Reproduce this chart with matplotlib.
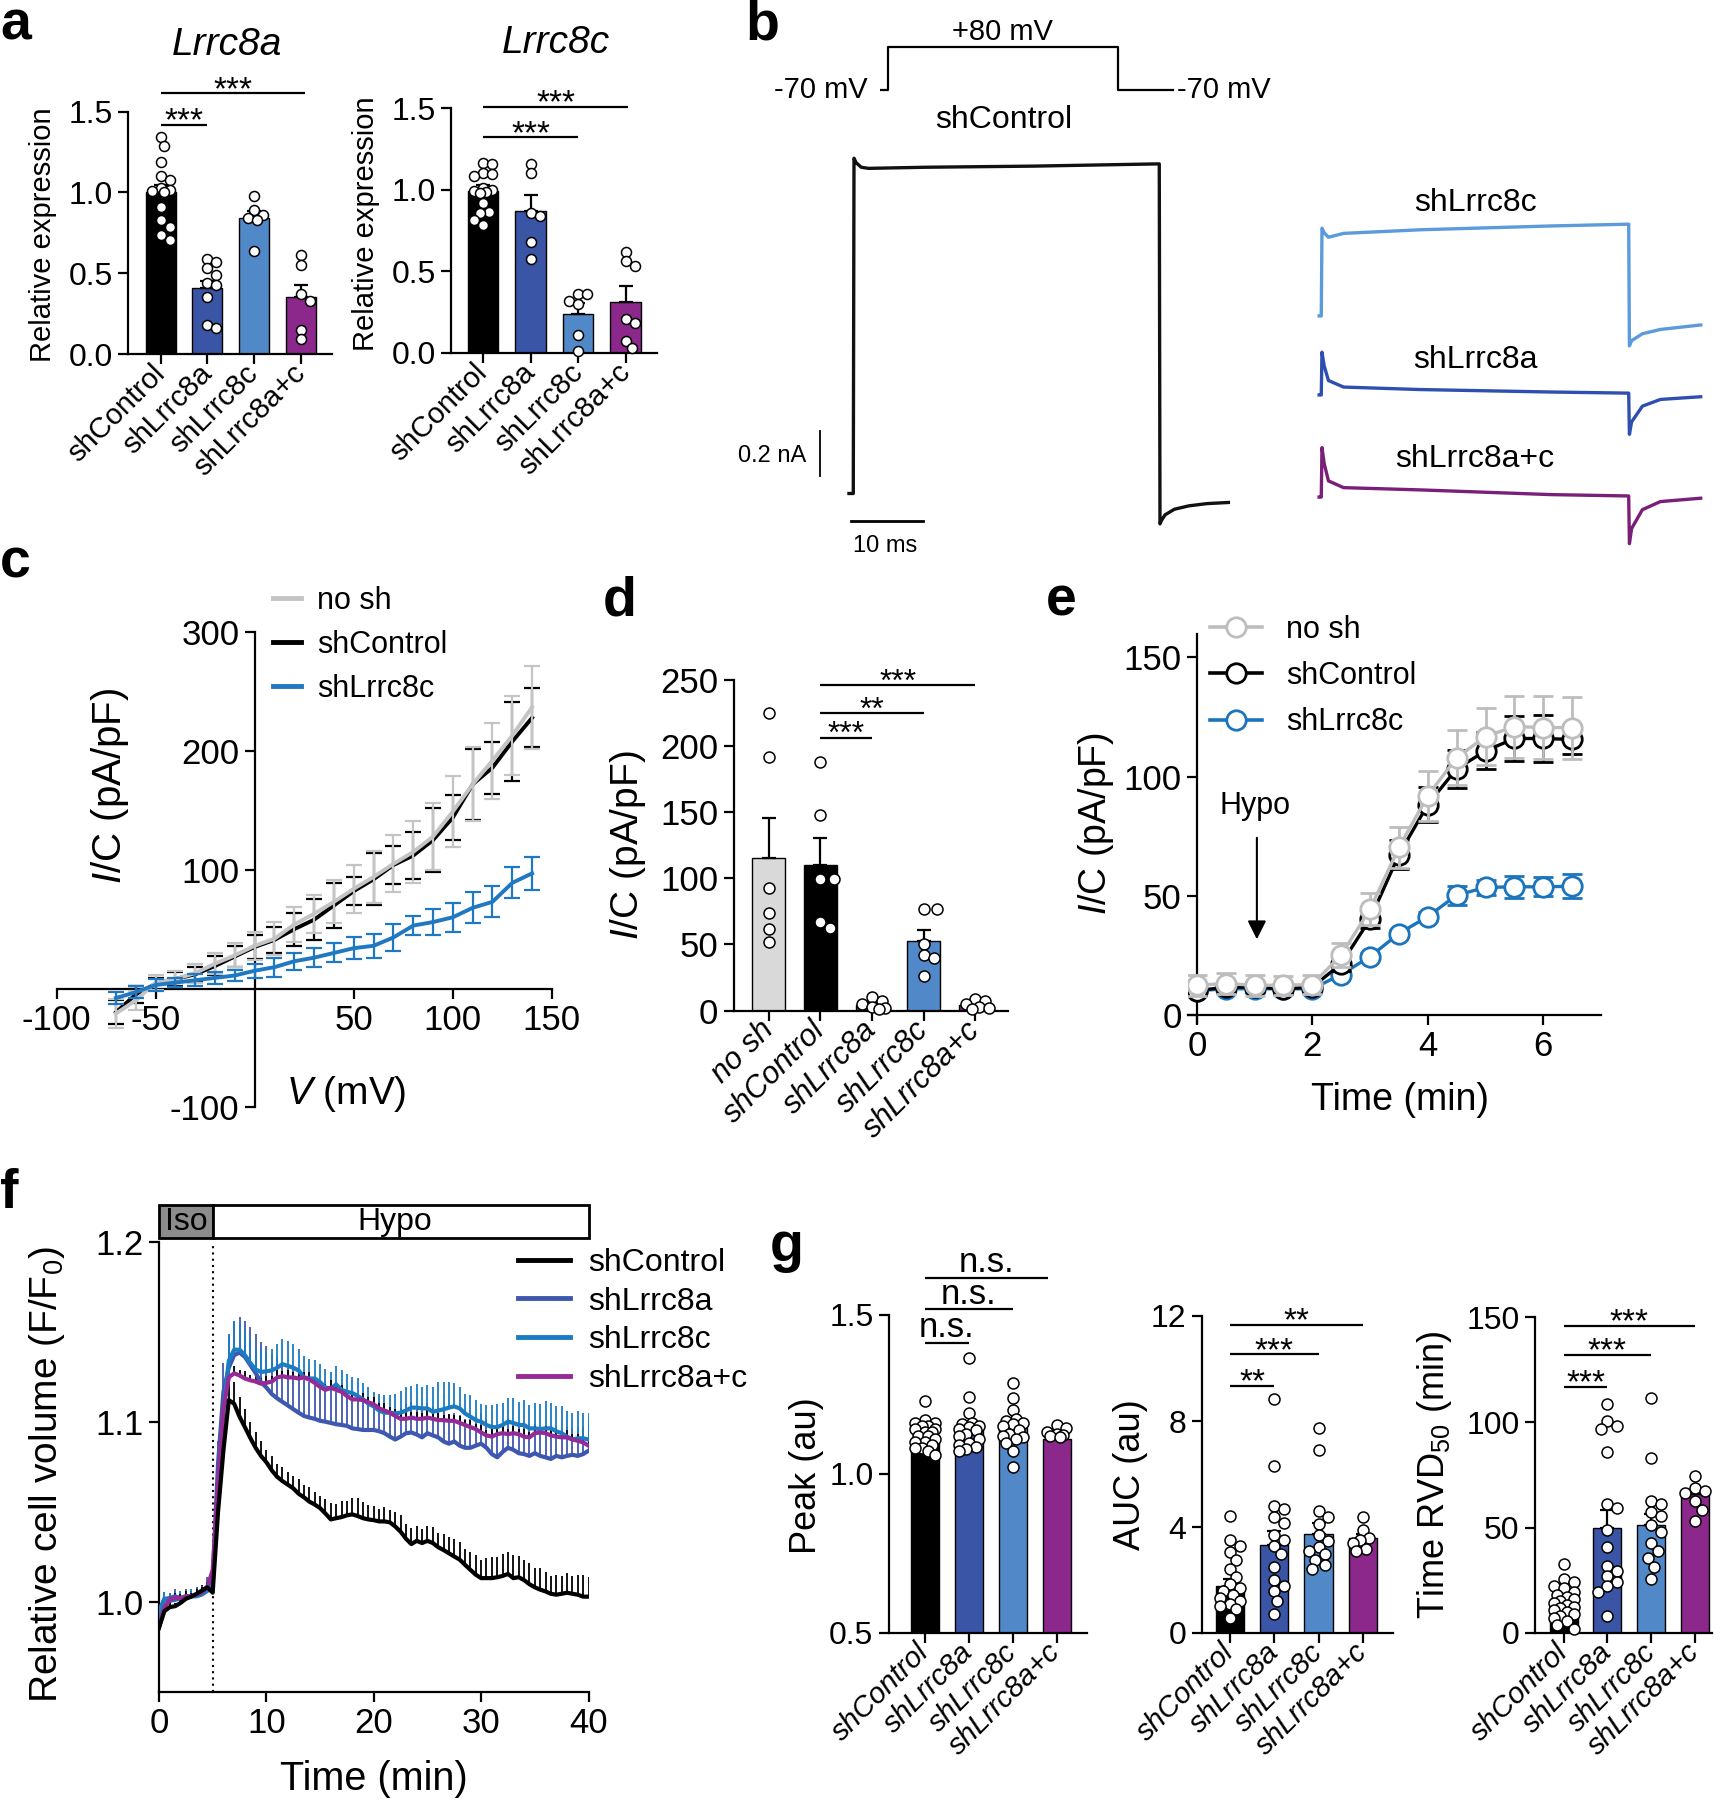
import numpy as np
import matplotlib
matplotlib.use("Agg")
import matplotlib.pyplot as plt
from matplotlib.patches import Rectangle
from matplotlib.lines import Line2D
from matplotlib.ticker import FormatStrFormatter

SANS = "Liberation Sans"
plt.rcParams["font.family"] = [SANS, "DejaVu Sans"]
plt.rcParams["mathtext.fontset"] = "custom"
plt.rcParams["mathtext.rm"] = SANS
plt.rcParams["mathtext.it"] = SANS + ":italic"
plt.rcParams["mathtext.bf"] = SANS + ":bold"
plt.rcParams["axes.unicode_minus"] = False

# ---------------- data ----------------
groups4 = ["shControl", "shLrrc8a", "shLrrc8c", "shLrrc8a+c"]
groups5 = ["no sh", "shControl", "shLrrc8a", "shLrrc8c", "shLrrc8a+c"]

# a: relative expression
a8a_mean = [1.00, 0.41, 0.84, 0.35]
a8a_sem = [0.046, 0.045, 0.045, 0.075]
a8a_pts = [[1.345, 1.29, 1.186, 1.104, 1.077, 1.025, 1.015, 1.011, 1.005, 0.912, 0.829, 0.788, 0.737, 0.706],
           [0.59, 0.57, 0.53, 0.49, 0.44, 0.43, 0.35, 0.18, 0.16],
           [0.98, 0.89, 0.86, 0.84, 0.83, 0.64],
           [0.61, 0.55, 0.37, 0.33, 0.15, 0.09]]
a8c_mean = [0.99, 0.87, 0.24, 0.31]
a8c_sem = [0.04, 0.095, 0.065, 0.10]
a8c_pts = [[1.166, 1.158, 1.101, 1.097, 1.086, 1.009, 0.999, 0.994, 0.988, 0.982, 0.917, 0.865, 0.856, 0.814, 0.784],
           [1.158, 1.101, 0.856, 0.839, 0.681, 0.573],
           [0.36, 0.36, 0.32, 0.30, 0.11, 0.01],
           [0.62, 0.56, 0.53, 0.205, 0.184, 0.074, 0.027]]

# b: current traces (ms, nA)
tr_ctrl_t = [-0.7, -0.1, 0.0, 0.3, 1.0, 2.0, 10, 25, 42.4, 42.5, 42.7, 43.2, 44.5, 46.5, 49, 52]
tr_ctrl_i = [0.0, 0.0, 1.49, 1.47, 1.45, 1.445, 1.45, 1.455, 1.465, -0.135, -0.12, -0.095, -0.07, -0.055, -0.045, -0.04]
tr_t = [-0.4, -0.1, 0.0, 0.3, 0.9, 3, 13.6, 31.8, 42.6, 42.7, 43.0, 44.5, 47, 52.6]
tr_8c_i = [0.0, 0.0, 0.39, 0.37, 0.35, 0.367, 0.383, 0.40, 0.408, -0.133, -0.11, -0.079, -0.06, -0.04]
tr_8a_i = [0.0, 0.0, 0.19, 0.13, 0.064, 0.035, 0.024, 0.013, 0.008, -0.175, -0.12, -0.05, -0.02, -0.008]
tr_ac_i = [0.0, 0.0, 0.22, 0.15, 0.072, 0.042, 0.032, 0.011, 0.005, -0.207, -0.14, -0.056, -0.02, -0.005]
proto_t = [0, 1.1, 1.1, 33.1, 33.1, 40.7]
proto_v = [-70, -70, 80, 80, -70, -70]

# c: I-V
iv_v = [-70, -60, -50, -40, -30, -20, -10, 0, 10, 20, 30, 40, 50, 60, 70, 80, 90, 100, 110, 120, 130, 140]
iv_nosh = [-21, -10, 5, 8, 13, 21, 28, 36, 42, 54, 63, 73, 84, 94, 105, 115, 128, 149, 172, 192, 213, 237]
iv_nosh_sem = [12, 8, 6, 7, 8, 9, 10, 12, 14, 15, 16, 18, 20, 22, 24, 26, 28, 30, 31, 32, 33, 35]
iv_ctrl = [-20, -5, 4, 8, 12, 19, 27, 35, 41, 50, 58, 70, 82, 92, 104, 112, 125, 144, 172, 186, 208, 228]
iv_ctrl_sem = [10, 7, 5, 6, 6, 8, 9, 10, 11, 14, 17, 19, 12, 22, 16, 20, 27, 19, 30, 22, 33, 25]
iv_8c = [-8, -3, 3, 5, 7, 9, 11, 15, 18, 23, 26, 30, 34, 36, 43, 53, 56, 60, 68, 73, 89, 97]
iv_8c_sem = [5, 5, 5, 4, 5, 5, 5, 6, 8, 7, 8, 8, 9, 10, 11, 8, 11, 12, 13, 13, 13, 14]

# d: current density at +80 mV
d_mean = [115.5, 110, 4.5, 52.4, 4.5]
d_sem = [30.5, 20.4, 1.5, 8.2, 1.5]
d_pts = [[225.5, 192, 93, 74, 62, 52],
         [188, 148, 99.7, 99.7, 67, 62.5],
         [10, 7, 5, 3, 2, 1],
         [77, 77, 50, 42, 40, 26],
         [9, 7, 5, 3, 2, 1]]

# e: time course
t_e = [0, 0.5, 1, 1.5, 2, 2.5, 3, 3.5, 4, 4.5, 5, 5.5, 6, 6.5]
e_nosh = [12.5, 13.2, 12.5, 12.5, 12.8, 25.2, 44.4, 70.3, 92, 108, 116.8, 121, 120.6, 120.6]
e_nosh_sem = [4.5, 4.5, 4.5, 4, 4, 5, 6.6, 8.7, 10.5, 11.5, 12, 13, 13.2, 13]
e_ctrl = [10.2, 11.7, 11.7, 11, 11.7, 21.5, 40.2, 67.3, 88.3, 103.3, 110.8, 116, 116, 115.6]
e_ctrl_sem = [2, 2, 2, 2, 2, 3, 3.5, 6, 7.3, 8, 7.8, 9.4, 10, 6]
e_8c = [10.2, 11, 11, 11, 11, 17, 24.5, 34.2, 41.3, 50.3, 53.5, 53.8, 53.8, 54]
e_8c_sem = [1.5, 1.5, 1.5, 1.5, 1.5, 1.5, 1.5, 1.5, 2, 4, 3, 4.5, 4, 5]

# f: relative cell volume, sampled every 0.5 min from 0 to 40
t_f = np.arange(81) * 0.5
f_ctrl = [0.9855, 0.9947, 0.997, 0.9975, 0.9993, 1.0016, 1.0028, 1.0044, 1.0062, 1.008, 1.005,
          1.050, 1.084, 1.112, 1.110, 1.1028, 1.097, 1.091, 1.0855, 1.081, 1.0775,
          1.073, 1.0694, 1.067, 1.065, 1.063, 1.060, 1.058, 1.0556, 1.054, 1.052,
          1.049, 1.0457, 1.0464, 1.047, 1.048, 1.0485, 1.0476, 1.0464, 1.0457, 1.0453,
          1.0446, 1.0446, 1.0441, 1.0418, 1.0389, 1.035, 1.032, 1.0338, 1.0326, 1.0338,
          1.0326, 1.0303, 1.0287, 1.0269, 1.0251, 1.0234, 1.0205, 1.0177, 1.015, 1.0131,
          1.0131, 1.0131, 1.0136, 1.0143, 1.0154, 1.0131, 1.0136, 1.012, 1.0097, 1.008,
          1.0067, 1.0057, 1.0044, 1.0039, 1.0044, 1.005, 1.0044, 1.0039, 1.0028, 1.0028]
f_ctrl_sem = [0.002, 0.003, 0.003, 0.002, 0.003, 0.003, 0.002, 0.003, 0.003, 0.002, 0.003,
              0.006, 0.008, 0.010, 0.012, 0.011, 0.010, 0.009, 0.009, 0.008, 0.007,
              0.008, 0.007, 0.008, 0.007, 0.007, 0.008, 0.007, 0.008, 0.007, 0.007,
              0.008, 0.009, 0.008, 0.009, 0.008, 0.009, 0.010, 0.009, 0.008, 0.008,
              0.007, 0.008, 0.007, 0.008, 0.009, 0.008, 0.009, 0.008, 0.008, 0.008,
              0.009, 0.008, 0.009, 0.009, 0.010, 0.010, 0.009, 0.010, 0.011, 0.010,
              0.011, 0.012, 0.011, 0.012, 0.012, 0.013, 0.012, 0.011, 0.012, 0.011,
              0.012, 0.011, 0.010, 0.011, 0.010, 0.011, 0.010, 0.011, 0.012, 0.011]
f_8a = [0.992, 1.0016, 1.002, 1.003, 1.002, 1.003, 1.003, 1.004, 1.005, 1.0085, 1.013,
        1.077, 1.1166, 1.130, 1.137, 1.1384, 1.136, 1.1315, 1.127, 1.122, 1.119,
        1.1154, 1.113, 1.111, 1.109, 1.107, 1.105, 1.1032, 1.1023, 1.1016, 1.1005,
        1.100, 1.0993, 1.0986, 1.0982, 1.0977, 1.0963, 1.0959, 1.0954, 1.0954, 1.0954,
        1.0947, 1.0936, 1.0917, 1.0901, 1.0917, 1.0936, 1.094, 1.0929, 1.0913, 1.0936,
        1.0924, 1.0913, 1.089, 1.0878, 1.089, 1.0867, 1.0855, 1.0855, 1.0867, 1.0878,
        1.0855, 1.082, 1.0802, 1.0832, 1.0855, 1.0844, 1.0825, 1.082, 1.081, 1.0825,
        1.081, 1.0802, 1.0793, 1.081, 1.0802, 1.081, 1.0816, 1.081, 1.082, 1.0839]
f_8a_sem = [0.004, 0.004, 0.003, 0.004, 0.003, 0.004, 0.003, 0.004, 0.004, 0.005, 0.006,
            0.012, 0.016, 0.018, 0.019, 0.020, 0.020, 0.021, 0.022, 0.022, 0.023,
            0.022, 0.023, 0.022, 0.021, 0.022, 0.021, 0.020, 0.020, 0.019, 0.019,
            0.018, 0.019, 0.018, 0.018, 0.017, 0.018, 0.017, 0.017, 0.016, 0.016,
            0.017, 0.016, 0.016, 0.017, 0.016, 0.016, 0.017, 0.016, 0.016, 0.017,
            0.016, 0.016, 0.017, 0.016, 0.016, 0.017, 0.016, 0.016, 0.016, 0.017,
            0.016, 0.016, 0.017, 0.016, 0.016, 0.015, 0.016, 0.016, 0.015, 0.016,
            0.016, 0.015, 0.016, 0.016, 0.015, 0.016, 0.015, 0.016, 0.015, 0.016]
f_8c = [0.9947, 1.0016, 1.0005, 1.001, 1.002, 1.002, 1.003, 1.003, 1.004, 1.006, 1.0097,
        1.066, 1.107, 1.1338, 1.140, 1.140, 1.137, 1.1326, 1.129, 1.1276, 1.128,
        1.1285, 1.130, 1.132, 1.131, 1.130, 1.1285, 1.1246, 1.124, 1.124, 1.122,
        1.119, 1.1184, 1.1207, 1.1177, 1.1166, 1.1159, 1.1143, 1.1124, 1.110, 1.1085,
        1.1062, 1.105, 1.105, 1.1046, 1.105, 1.1062, 1.1078, 1.1078, 1.1074, 1.1074,
        1.1055, 1.1062, 1.1069, 1.1078, 1.1085, 1.1074, 1.1046, 1.1028, 1.1009, 1.100,
        1.0982, 1.097, 1.097, 1.0982, 1.100, 1.0993, 1.0982, 1.0982, 1.0963, 1.0963,
        1.0959, 1.0963, 1.0963, 1.0947, 1.0936, 1.0917, 1.0901, 1.0908, 1.0908, 1.0901]
f_8c_sem = [0.005, 0.004, 0.004, 0.003, 0.004, 0.003, 0.004, 0.003, 0.004, 0.004, 0.005,
            0.010, 0.013, 0.015, 0.016, 0.015, 0.014, 0.013, 0.012, 0.012, 0.011,
            0.012, 0.013, 0.014, 0.014, 0.013, 0.012, 0.012, 0.011, 0.010, 0.010,
            0.010, 0.009, 0.010, 0.011, 0.010, 0.009, 0.010, 0.009, 0.009, 0.008,
            0.009, 0.010, 0.010, 0.011, 0.012, 0.013, 0.012, 0.013, 0.012, 0.013,
            0.014, 0.016, 0.015, 0.014, 0.013, 0.012, 0.011, 0.012, 0.011, 0.010,
            0.011, 0.012, 0.013, 0.012, 0.013, 0.014, 0.013, 0.014, 0.013, 0.014,
            0.014, 0.015, 0.014, 0.014, 0.015, 0.014, 0.015, 0.015, 0.014, 0.015]
f_ac = [0.9855, 0.997, 1.001, 1.002, 1.002, 1.003, 1.003, 1.004, 1.005, 1.008, 1.0177,
        1.066, 1.107, 1.1246, 1.1269, 1.1257, 1.124, 1.123, 1.1223, 1.1211, 1.1216,
        1.1223, 1.1246, 1.1253, 1.1246, 1.1246, 1.124, 1.1246, 1.1234, 1.1216, 1.1193,
        1.1177, 1.1189, 1.1177, 1.1166, 1.1143, 1.1124, 1.1124, 1.112, 1.1108, 1.1097,
        1.1074, 1.1062, 1.105, 1.1032, 1.1016, 1.1016, 1.1023, 1.1016, 1.1016, 1.1023,
        1.1016, 1.1009, 1.1009, 1.1005, 1.1005, 1.0993, 1.0982, 1.097, 1.0959, 1.094,
        1.0924, 1.0917, 1.0931, 1.0936, 1.0931, 1.0936, 1.0931, 1.0917, 1.0913, 1.0936,
        1.094, 1.0936, 1.0924, 1.0917, 1.0913, 1.0913, 1.0901, 1.0894, 1.0885, 1.0867]
f_ac_sem = [0.003, 0.003, 0.002, 0.003, 0.002, 0.003, 0.002, 0.003, 0.003, 0.003, 0.004,
            0.004, 0.004, 0.004, 0.004, 0.003, 0.004, 0.003, 0.004, 0.003, 0.004,
            0.003, 0.004, 0.003, 0.004, 0.003, 0.004, 0.003, 0.004, 0.003, 0.004,
            0.003, 0.004, 0.003, 0.004, 0.003, 0.004, 0.003, 0.004, 0.003, 0.004,
            0.003, 0.004, 0.003, 0.004, 0.003, 0.004, 0.003, 0.004, 0.003, 0.004,
            0.003, 0.004, 0.003, 0.004, 0.003, 0.004, 0.003, 0.004, 0.003, 0.004,
            0.003, 0.004, 0.003, 0.004, 0.003, 0.004, 0.003, 0.004, 0.003, 0.004,
            0.003, 0.004, 0.003, 0.004, 0.003, 0.004, 0.003, 0.004, 0.003, 0.004]
iso_end, hypo_end = 5, 40

# g: RVD summary
peak_mean = [1.108, 1.137, 1.143, 1.108]
peak_sem = [0.012, 0.018, 0.024, 0.010]
peak_pts = [[1.23, 1.17, 1.16, 1.16, 1.15, 1.15, 1.14, 1.14, 1.13, 1.13, 1.12, 1.12, 1.11, 1.10, 1.10, 1.09, 1.08, 1.08, 1.07, 1.06],
            [1.365, 1.24, 1.19, 1.16, 1.157, 1.15, 1.146, 1.14, 1.136, 1.126, 1.12, 1.108, 1.097, 1.091, 1.085, 1.079, 1.073],
            [1.284, 1.239, 1.202, 1.172, 1.167, 1.161, 1.155, 1.149, 1.137, 1.126, 1.12, 1.114, 1.108, 1.097, 1.073, 1.02],
            [1.153, 1.143, 1.132, 1.126, 1.122, 1.12, 1.114]]
auc_mean = [1.77, 3.32, 3.75, 3.6]
auc_sem = [0.25, 0.52, 0.42, 0.12]
auc_pts = [[4.43, 3.5, 3.28, 3.04, 2.76, 2.4, 2.12, 1.84, 1.7, 1.56, 1.41, 1.3, 1.2, 1.1, 0.99, 0.88, 0.57],
           [8.84, 6.32, 4.81, 4.67, 4.38, 4.17, 3.68, 3.5, 3.28, 2.97, 2.47, 1.98, 1.77, 1.56, 1.2, 0.71],
           [7.74, 6.93, 4.6, 4.38, 4.1, 3.68, 3.47, 3.25, 3.11, 2.97, 2.76, 2.55, 2.4],
           [4.38, 3.89, 3.6, 3.5, 3.39, 3.18, 3.11]]
rvd_mean = [10, 49.9, 51.3, 65.8]
rvd_sem = [2.0, 8.5, 5.3, 2.0]
rvd_pts = [[32.7, 25.6, 23.9, 22.1, 21.2, 19.5, 17.7, 16.8, 15.9, 15, 14.2, 13.3, 12.4, 11.5, 10.6, 9.7, 8.8, 8, 7.1, 5.7, 3.5, 1.8],
           [108.8, 100.8, 98.2, 96.9, 85.8, 61, 59.3, 48.6, 40.7, 31.8, 29.2, 27, 23.9, 22, 19.5, 8],
           [111.8, 83.1, 62.8, 61, 57.5, 55.7, 51.3, 47.8, 42.5, 38.9, 35.4, 31, 25.6],
           [74.3, 69, 67.2, 66.3, 62.8, 58.4, 53.1]]

# ---------------- colours ----------------
C_CTRL, C_8A, C_8C, C_AC, C_NOSH = "black", "#3b55a6", "#5088c8", "#8c278c", "#d9d9d9"
colors4 = [C_CTRL, C_8A, C_8C, C_AC]

# ---------------- helpers ----------------
W, H = 1722, 1800
fig = plt.figure(figsize=(W / 100, H / 100), dpi=100)


def add_ax(x0, y0, x1, y1):
    return fig.add_axes([x0 / W, 1 - y1 / H, (x1 - x0) / W, (y1 - y0) / H])


def ftext(x, y, s, **kw):
    return fig.text(x / W, 1 - y / H, s, **kw)


def style(ax, size):
    for s in ["top", "right"]:
        ax.spines[s].set_visible(False)
    for s in ["left", "bottom"]:
        ax.spines[s].set_linewidth(1.6)
    ax.tick_params(width=1.6, length=7, direction="out", labelsize=size, pad=4)


def swarm(ax, xc, vals, size_px, bar_w=0.64):
    # simple beeswarm, kept inside the bar width (points may overlap, as in Prism)
    T = ax.transData
    cx = T.transform((xc, 0))[0]
    max_off = 0.5 * (T.transform((xc + bar_w, 0))[0] - cx) - 0.15 * size_px
    step = size_px * 0.3
    cands = [0.0]
    k = 1
    while k * step <= max_off + 1e-6:
        cands += [k * step, -k * step]
        k += 1
    placed, xs = [], []
    for v in vals:
        py = T.transform((xc, v))[1]
        best, best_d = 0.0, -1
        for off in cands:
            d = min([np.hypot(off - ox, py - oy) for ox, oy in placed] + [1e9])
            if d >= 0.9 * size_px:
                best = off
                break
            if d > best_d:
                best, best_d = off, d
        placed.append((best, py))
        xs.append(T.inverted().transform((cx + best, py))[0])
    ax.scatter(xs, vals, s=(size_px * 0.72) ** 2, facecolor="white", edgecolor="black",
               linewidth=1.1, zorder=4, clip_on=False)


def bar_panel(rect, xlim, ylim, yticks, fmt, labels, colors, means, sems, pts,
              size_px=10, tick_size=23, xlab_size=21, italic=False):
    ax = add_ax(*rect)
    ax.set_xlim(*xlim)
    ax.set_ylim(*ylim)
    style(ax, tick_size)
    ax.set_yticks(yticks)
    if fmt:
        ax.yaxis.set_major_formatter(FormatStrFormatter(fmt))
    x = np.arange(len(labels))
    ax.set_xticks(x)
    ax.set_xticklabels(labels, rotation=45, ha="right", va="center", rotation_mode="anchor",
                       fontstyle="italic" if italic else "normal", fontsize=xlab_size)
    ax.bar(x, means, width=0.64, color=colors, edgecolor="black", linewidth=1.0, zorder=2)
    ax.errorbar(x, means, yerr=[np.zeros(len(means)), sems], fmt="none", ecolor="black",
                elinewidth=1.6, capsize=5, capthick=1.6, zorder=3)
    for xi, vals in zip(x, pts):
        swarm(ax, xi, vals, size_px)
    return ax


def sig(ax, x0, x1, y, label, dy=-4, size=24):
    ax.plot([x0, x1], [y, y], color="black", lw=1.6, clip_on=False, solid_capstyle="butt")
    ax.annotate(label, ((x0 + x1) / 2, y), xytext=(0, dy), textcoords="offset points",
                ha="center", va="baseline", fontsize=size, annotation_clip=False)


# ---------------- panel a ----------------
ax = bar_panel((127.9, 111.7, 332, 354), (-0.70, 3.67), (0, 1.5), [0, 0.5, 1.0, 1.5], "%.1f",
               groups4, colors4, a8a_mean, a8a_sem, a8a_pts)
sig(ax, 0, 1, 1.418, "***")
sig(ax, 0, 3.1, 1.614, "***")
ftext(226.6, 45, "Lrrc8a", fontsize=28, fontstyle="italic", ha="center", va="center")
ftext(42.6, 235, "Relative expression", fontsize=21, rotation=90, ha="center", va="center")

ax = bar_panel((450.9, 108.3, 657, 352.7), (-0.68, 3.66), (0, 1.5), [0, 0.5, 1.0, 1.5], "%.1f",
               groups4, colors4, a8c_mean, a8c_sem, a8c_pts)
sig(ax, 0, 2, 1.322, "***")
sig(ax, 0, 3.05, 1.51, "***")
ftext(556, 43, "Lrrc8c", fontsize=28, fontstyle="italic", ha="center", va="center")
ftext(365.6, 224, "Relative expression", fontsize=21, rotation=90, ha="center", va="center")

# ---------------- panel b ----------------
axb = add_ax(700, 0, 1722, 560)
axb.set_xlim(-21.39, 120.56)
axb.set_ylim(-0.2956, 2.1933)
axb.axis("off")
shift = 65.0
axb.plot(tr_ctrl_t, tr_ctrl_i, color="#111111", lw=2.4)
axb.plot(np.array(tr_t) + shift, np.array(tr_8c_i) + 0.789, color="#5b9bdb", lw=2.4)
axb.plot(np.array(tr_t) + shift, np.array(tr_8a_i) + 0.438, color="#2f4fb0", lw=2.4)
axb.plot(np.array(tr_t) + shift, np.array(tr_ac_i) - 0.016, color="#7a1f78", lw=2.4)
axb.plot([-4.72, -4.72], [0.078, 0.278], color="black", lw=1.3)
axb.plot([-0.47, 9.53], [-0.122, -0.122], color="black", lw=2)
axp = add_ax(880, 40, 1180, 96)
axp.set_xlim(0, 41.7)
axp.set_ylim(-92, 103.4)
axp.axis("off")
axp.plot(proto_t, proto_v, color="black", lw=1.6)
ftext(1002, 32, "+80 mV", fontsize=21, ha="center", va="center")
ftext(821, 90, "-70 mV", fontsize=21, ha="center", va="center")
ftext(1224, 90, "-70 mV", fontsize=21, ha="center", va="center")
ftext(1004, 120, "shControl", fontsize=23, ha="center", va="center")
ftext(1475, 203, "shLrrc8c", fontsize=23, ha="center", va="center")
ftext(1475, 360, "shLrrc8a", fontsize=23, ha="center", va="center")
ftext(1475, 459, "shLrrc8a+c", fontsize=23, ha="center", va="center")
ftext(772, 456, "0.2 nA", fontsize=17, ha="center", va="center")
ftext(885, 546, "10 ms", fontsize=17, ha="center", va="center")

# ---------------- panel c ----------------
axc = add_ax(56.5, 632.3, 551.9, 1107.3)
axc.set_xlim(-100, 150)
axc.set_ylim(-100, 300)
style(axc, 25)
axc.spines["left"].set_position(("data", 0))
axc.spines["bottom"].set_position(("data", 0))
ekw = dict(lw=2.8, elinewidth=1.6, capsize=6, capthick=1.6)
axc.errorbar(iv_v, iv_ctrl, yerr=iv_ctrl_sem, color="black", zorder=2, **ekw)
axc.errorbar(iv_v, iv_nosh, yerr=iv_nosh_sem, color="#c4c4c4", zorder=3, **ekw)
axc.errorbar(iv_v, iv_8c, yerr=iv_8c_sem, color="#1f78c1", zorder=4, **ekw)
axc.set_xticks([-100, -50, 50, 100, 150])
axc.set_yticks([-100, 100, 200, 300])
handles = [Line2D([], [], color=c, lw=3.5) for c in ["#c4c4c4", "black", "#1f78c1"]]
axc.legend(handles, ["no sh", "shControl", "shLrrc8c"], loc="upper left",
           bbox_to_anchor=(273 / W, 1 - 586 / H), bbox_transform=fig.transFigure,
           frameon=False, borderpad=0, borderaxespad=0, handlelength=0.92,
           handletextpad=0.51, labelspacing=0.46, fontsize=22)
ftext(109.6, 786, r"$\mathit{I}$/C (pA/pF)", fontsize=29, rotation=90, ha="center", va="center")
ftext(346, 1094, r"$\mathit{V}$ (mV)", fontsize=28, ha="center", va="center")

# ---------------- panel d ----------------
axd = bar_panel((733.7, 680.2, 1008, 1010.5), (-0.68, 4.63), (0, 250), [0, 50, 100, 150, 200, 250], None,
                groups5, [C_NOSH, C_CTRL, C_8A, C_8C, C_AC], d_mean, d_sem, d_pts,
                size_px=11, tick_size=25, xlab_size=22, italic=True)
sig(axd, 1, 2, 206.5, "***", size=23)
sig(axd, 1, 3, 225, "**", size=23)
sig(axd, 1, 4, 246.4, "***", size=23)
ftext(627.6, 845.4, r"$\mathit{I}$/C (pA/pF)", fontsize=28, rotation=90, ha="center", va="center")

# ---------------- panel e ----------------
axe = add_ax(1187.6, 633.6, 1601, 1022.9)
axe.set_xlim(-0.16, 7.0)
axe.set_ylim(-3.3, 160)
style(axe, 25)
axe.spines["left"].set_position(("data", 0))
axe.spines["bottom"].set_position(("data", 0))
mkw = dict(lw=2.4, marker="o", ms=14, mfc="white", mew=2, capsize=7, elinewidth=2, capthick=2)
axe.errorbar(t_e, e_8c, yerr=e_8c_sem, color="#1c75bc", mec="#1c75bc", zorder=2, **mkw)
axe.errorbar(t_e, e_ctrl, yerr=e_ctrl_sem, color="black", mec="black", zorder=3, **mkw)
axe.errorbar(t_e, e_nosh, yerr=e_nosh_sem, color="#bdbdbd", mec="#bdbdbd", zorder=4, **mkw)
axe.set_xticks([0, 2, 4, 6])
axe.set_yticks([0, 50, 100, 150])
axe.annotate("", xy=(1.04, 30.6), xytext=(1.04, 75.5),
             arrowprops=dict(arrowstyle="-|>", color="black", lw=1.5, mutation_scale=28))
handles = [Line2D([], [], color=c, marker="o", ms=14, mfc="white", mec=c, mew=2, lw=2.6)
           for c in ["#bdbdbd", "black", "#1c75bc"]]
axe.legend(handles, ["no sh", "shControl", "shLrrc8c"], loc="upper left",
           bbox_to_anchor=(1209.6 / W, 1 - 615 / H), bbox_transform=fig.transFigure,
           frameon=False, borderpad=0, borderaxespad=0, handlelength=1.71,
           handletextpad=0.8, labelspacing=0.53, fontsize=22)
ftext(1255, 806, "Hypo", fontsize=22, ha="center", va="center")
ftext(1096, 823.8, r"$\mathit{I}$/C (pA/pF)", fontsize=27, rotation=90, ha="center", va="center")
ftext(1400, 1100, "Time (min)", fontsize=27, ha="center", va="center")

# ---------------- panel f ----------------
axf = add_ax(159, 1241.7, 588.5, 1691.7)
axf.set_xlim(0, 40)
axf.set_ylim(0.95, 1.2)
style(axf, 25)
axf.set_xticks([0, 10, 20, 30, 40])
axf.set_yticks([1.0, 1.1, 1.2])
axf.yaxis.set_major_formatter(FormatStrFormatter("%.1f"))
fcol = {"ctrl": "black", "8a": "#3e58b0", "8c": "#1b7cc3", "ac": "#962a96"}
axf.vlines(t_f, f_ctrl, np.array(f_ctrl) + np.array(f_ctrl_sem), color="black", lw=1.3, zorder=2)
axf.vlines(t_f, f_8a, np.array(f_8a) + np.array(f_8a_sem), color=fcol["8a"], lw=1.3, zorder=2)
axf.vlines(t_f, f_8c, np.array(f_8c) + np.array(f_8c_sem), color=fcol["8c"], lw=1.3, zorder=2)
axf.vlines(t_f, f_ac, np.array(f_ac) + np.array(f_ac_sem), color="black", lw=1.3, zorder=2)
axf.plot(t_f, f_8a, color=fcol["8a"], lw=3, zorder=3)
axf.plot(t_f, f_8c, color=fcol["8c"], lw=3, zorder=3)
axf.plot(t_f, f_ac, color=fcol["ac"], lw=3, zorder=3)
axf.plot(t_f, f_ctrl, color="black", lw=3, zorder=4)
axf.axvline(iso_end, color="black", ls=(0, (1, 2)), lw=1.5, zorder=1)
axf.add_patch(Rectangle((0, 1.2019), iso_end, 0.0184, facecolor="#8c8c8c", edgecolor="black",
                        lw=2, clip_on=False))
axf.add_patch(Rectangle((iso_end, 1.2019), hypo_end - iso_end, 0.0184, facecolor="white",
                        edgecolor="black", lw=2, clip_on=False))
axf.text(iso_end / 2, 1.2111, "Iso", fontsize=23, ha="center", va="center")
axf.text(22, 1.2111, "Hypo", fontsize=23, ha="center", va="center")
handles = [Line2D([], [], color=c, lw=3.5) for c in ["black", fcol["8a"], fcol["8c"], fcol["ac"]]]
axf.legend(handles, groups4, loc="upper left",
           bbox_to_anchor=(517.5 / W, 1 - 1248 / H), bbox_transform=fig.transFigure,
           frameon=False, borderpad=0, borderaxespad=0, handlelength=1.65,
           handletextpad=0.55, labelspacing=0.27, fontsize=23)
ftext(47.5, 1475, r"Relative cell volume (F/F$_0$)", fontsize=28, rotation=90, ha="center", va="center")
ftext(374, 1779, "Time (min)", fontsize=28.5, ha="center", va="center")

# ---------------- panel g ----------------
axg1 = bar_panel((888.7, 1314.8, 1086.8, 1632.6), (-0.83, 3.69), (0.5, 1.5), [0.5, 1.0, 1.5], "%.1f",
                 groups4, colors4, peak_mean, peak_sem, peak_pts,
                 size_px=11, tick_size=23, xlab_size=21, italic=True)
sig(axg1, 0, 1, 1.412, "n.s.", dy=4, size=25)
sig(axg1, 0, 2, 1.5175, "n.s.", dy=4, size=25)
sig(axg1, 0, 2.8, 1.617, "n.s.", dy=4, size=25)
ftext(807, 1475.4, "Peak (au)", fontsize=26, rotation=90, ha="center", va="center")

axg2 = bar_panel((1201.5, 1315.9, 1393, 1632.6), (-0.64, 3.68), (0, 12), [0, 4, 8, 12], None,
                 groups4, colors4, auc_mean, auc_sem, auc_pts,
                 size_px=11, tick_size=23, xlab_size=21, italic=True)
sig(axg2, 0, 1, 9.36, "**")
sig(axg2, 0, 2, 10.54, "***")
sig(axg2, 0, 3, 11.67, "**")
ftext(1130, 1475, "AUC (au)", fontsize=26, rotation=90, ha="center", va="center")

axg3 = bar_panel((1534.8, 1317.4, 1712, 1632.6), (-0.66, 3.39), (0, 150), [0, 50, 100, 150], None,
                 groups4, colors4, rvd_mean, rvd_sem, rvd_pts,
                 size_px=11, tick_size=23, xlab_size=21, italic=True)
sig(axg3, 0, 1, 117.1, "***")
sig(axg3, 0, 2, 132.1, "***")
sig(axg3, 0, 3, 145.9, "***")
ftext(1435, 1475, r"Time RVD$_{50}$ (min)", fontsize=26, rotation=90, ha="center", va="center")

# ---------------- panel letters ----------------
for letter, x, y in [("a", 0, 40), ("b", 745, 40), ("c", 0, 578), ("d", 603, 615),
                     ("e", 1046, 615), ("f", 0, 1208), ("g", 770, 1261)]:
    ftext(x, y, letter, fontsize=40, fontweight="bold", ha="left", va="baseline")

fig.savefig("out.png", dpi=100)
